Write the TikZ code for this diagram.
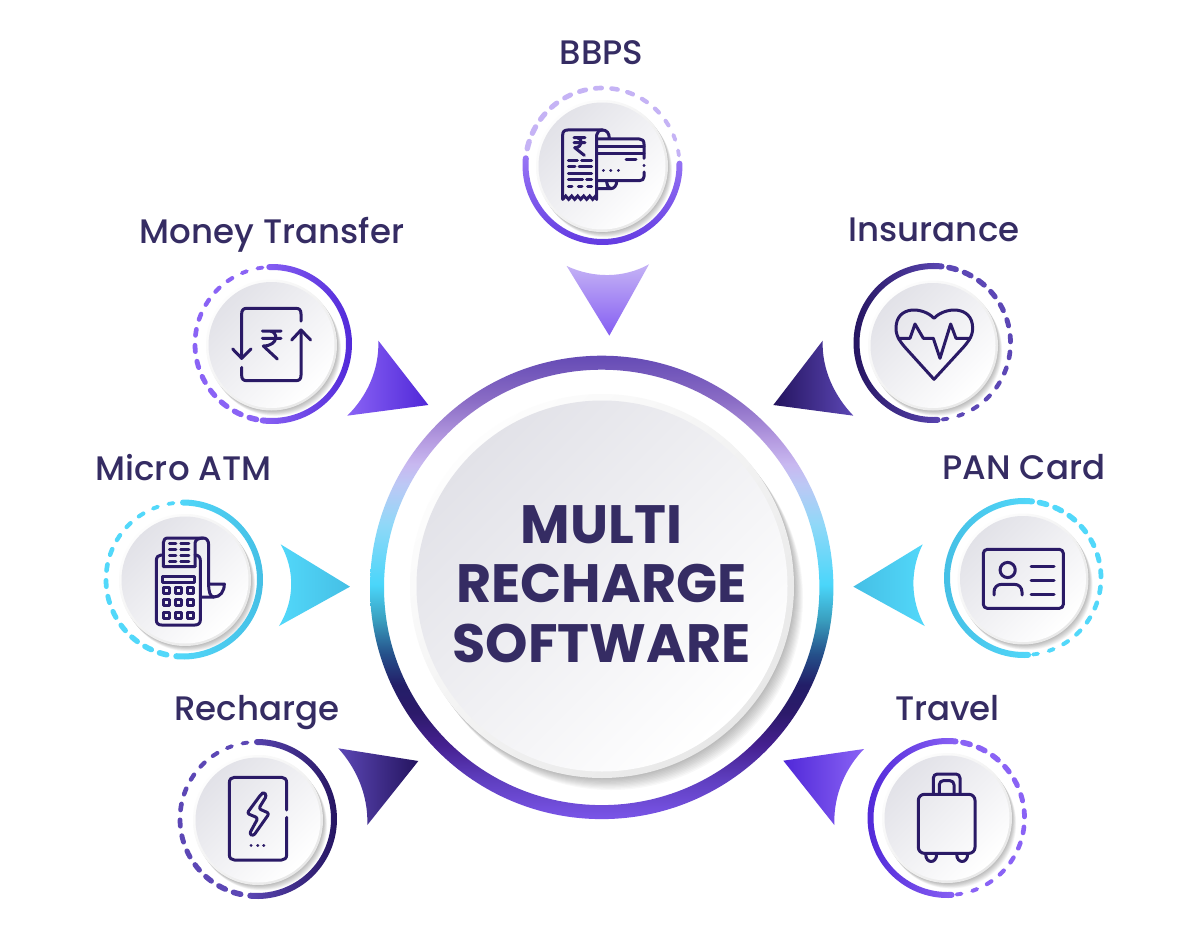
\documentclass[tikz,border=0pt]{standalone}
\usepackage{fontspec}
\setmainfont{Poppins}
\newfontfamily\labfont{Poppins Medium}
\definecolor{ink}{HTML}{352C63}
\definecolor{icon}{HTML}{2A1A66}
\definecolor{lav}{HTML}{C5B3F5}
\definecolor{vio}{HTML}{8A63F5}
\definecolor{viod}{HTML}{5028D8}
\definecolor{cyl}{HTML}{52D8FA}
\definecolor{cyd}{HTML}{45BFE5}
\definecolor{ind}{HTML}{5C47B5}
\definecolor{indd}{HTML}{24145F}
\definecolor{discA}{HTML}{E2E2E8}
\definecolor{rimA}{HTML}{FDFDFD}
\definecolor{rimB}{HTML}{E8E8E8}
\definecolor{ra}{HTML}{654BB5}
\definecolor{rb}{HTML}{8A6CC5}
\definecolor{rc}{HTML}{B49AE0}
\definecolor{rd}{HTML}{C8B8F0}
\definecolor{re}{HTML}{BCC8F5}
\definecolor{rf}{HTML}{90D8F8}
\definecolor{rg}{HTML}{4AD6FA}
\definecolor{rh}{HTML}{3AA0C0}
\definecolor{ri}{HTML}{25508A}
\definecolor{rj}{HTML}{231E68}
\definecolor{rk}{HTML}{2C1A6A}
\definecolor{rl}{HTML}{452090}
\definecolor{rm}{HTML}{5F3FC0}
\definecolor{rn}{HTML}{7A55E8}
% stops: 25bp = bottom of the ring (y=819), 75bp = top (y=356)
\pgfdeclareverticalshading{bigring}{100bp}{
 color(0bp)=(rn); color(25bp)=(rn); color(29.2bp)=(rm); color(33bp)=(rl);
 color(36.5bp)=(rk); color(39.5bp)=(rj); color(42.8bp)=(ri); color(46.6bp)=(rh);
 color(50.3bp)=(rg); color(56.8bp)=(rf); color(61.1bp)=(re); color(63.3bp)=(rd);
 color(66bp)=(rc); color(70.2bp)=(rb); color(75bp)=(ra); color(100bp)=(ra)}
\newcommand{\softshadow}[5]{% cx cy r spread opacity
 \foreach \i in {1,...,10}{
  \pgfmathsetmacro{\q}{\i/10}
  \fill[black,opacity=#5] ({#1+#4*.6*\q},{-#2-#4*.8*\q}) circle[radius=#3pt];
 }}
\newcommand{\disc}[4]{% cx cy r rim
 \shade[top color=rimA,bottom color=rimB,shading angle=45] (#1,-#2) circle[radius=#3pt];
 \shade[top color=discA,bottom color=white,shading angle=45] (#1,-#2) circle[radius={(#3-#4)*1pt}];
}
\newcommand{\solidarc}[7]{% cx cy r w a1 a2 shade-options
 \shade[#7] ({#1+(#3+#4/2)*cos(#5)},{-#2+(#3+#4/2)*sin(#5)})
   arc[start angle=#5,end angle=#6,radius={(#3+#4/2)*1pt}]
   arc[start angle=#6,end angle=#6+180,radius={#4/2*1pt}]
   arc[start angle=#6,end angle=#5,radius={(#3-#4/2)*1pt}]
   arc[start angle=#5+180,end angle=#5+360,radius={#4/2*1pt}] -- cycle;
}
\newcommand{\dashring}[9]{% cx cy a1 a2 w1 w2 len1 len2 colour
 \foreach \i in {0,...,13}{
  \pgfmathsetmacro{\t}{\i/13}
  \pgfmathsetmacro{\ang}{#3+(#4-#3)*\t}
  \pgfmathsetmacro{\wid}{#5+(#6-#5)*\t}
  \pgfmathsetmacro{\len}{#7+(#8-#7)*\t}
  \pgfmathsetmacro{\sa}{\ang-\len/2}
  \pgfmathsetmacro{\ea}{\ang+\len/2}
  \draw[#9,line width=\wid pt,line cap=round] ({#1+77*cos(\sa)},{-#2+77*sin(\sa)}) arc[start angle=\sa,end angle=\ea,radius=77pt];
 }}
\tikzset{
 lab/.style={font=\labfont\fontsize{34}{40}\selectfont,text=ink,anchor=base,inner sep=0pt},
 ic/.style={draw=icon,line width=3pt,line cap=round,line join=round},
 zoomed/.style={x=.33333pt,y=-.33333pt}
}
\begin{document}
\begin{tikzpicture}[x=1pt,y=1pt]
\useasboundingbox (0,0) rectangle (1200,-942);
\fill[white] (0,0) rectangle (1200,-942);

% soft shadows first, so that the rings stay clean
\softshadow{602}{586}{192}{15}{.028}
\softshadow{602}{166}{66}{7}{.028}
\softshadow{271.5}{345}{65.5}{7}{.028}
\softshadow{185}{580}{66}{7}{.028}
\softshadow{258}{820}{65}{7}{.028}
\softshadow{933}{345.5}{65}{7}{.028}
\softshadow{1023}{579}{65.5}{7}{.028}
\softshadow{947}{818}{65}{7}{.028}

% central ring and disc
\shade[shading=bigring,even odd rule] (601.7,-587.4) circle[radius=231.7pt] (601.7,-587.4) circle[radius=217.7pt];
\disc{602}{586}{192}{6.5}
\node[name=title,font=\bfseries\fontsize{54}{59.7}\selectfont,text=ink,align=center,inner sep=0pt] at (601.5,-584) {MULTI\\RECHARGE\\SOFTWARE};

% satellites: rings
\solidarc{602.5}{165}{77}{6}{175}{361}{top color=vio!75!lav,bottom color=viod!70!vio}
\dashring{602.5}{165}{165}{9}{5.4}{3.8}{5.5}{3.8}{lav}
\disc{602}{166}{66}{2.5}

\solidarc{272}{344}{77}{6}{-97}{92}{left color=vio,right color=viod}
\dashring{272}{344}{99}{255.6}{3.8}{5.6}{3.8}{5.5}{vio}
\disc{271.5}{345}{65.5}{2.5}

\solidarc{183}{579.5}{77}{6}{-95}{90}{left color=cyl,right color=cyd}
\dashring{183}{579.5}{99}{255}{3.8}{5.6}{3.8}{5.5}{cyl}
\disc{185}{580}{66}{2.5}

\solidarc{257}{819}{77}{6}{-95}{90}{left color=ind,right color=indd}
\dashring{257}{819}{99}{255}{3.8}{5.6}{3.8}{5.5}{ind}
\disc{258}{820}{65}{2.5}

\solidarc{933.5}{343}{77}{6}{84}{273}{left color=indd,right color=ind}
\dashring{933.5}{343}{75.7}{-81.4}{5.6}{3.8}{5.5}{3.8}{ind}
\disc{933}{345.5}{65}{2.5}

\solidarc{1024}{578}{77}{6}{84}{273}{left color=cyd,right color=cyl}
\dashring{1024}{578}{75.7}{-81.4}{5.6}{3.8}{5.5}{3.8}{cyl}
\disc{1023}{579}{65.5}{2.5}

\solidarc{947.5}{818}{77}{6}{84}{273}{left color=viod,right color=vio}
\dashring{947.5}{818}{75.7}{-81.4}{5.6}{3.8}{5.5}{3.8}{vio}
\disc{947}{818}{65}{2.5}

% pointers
\begin{scope}[shift={(500,-70)},zoomed]
 \shade[top color=lav,bottom color=vio!90!viod] (200,588) .. controls (280,625) and (370,625) .. (447,583) -- (328,797) -- cycle;
\end{scope}
\begin{scope}[shift={(170,-250)},zoomed]
 \shade[left color=vio,right color=viod] (625,272) .. controls (628,360) and (590,440) .. (532,497) -- (775,465) -- cycle;
\end{scope}
\begin{scope}[shift={(90,-490)},zoomed]
 \shade[left color=cyl,right color=cyd] (572,163) .. controls (615,240) and (615,330) .. (567,408) -- (780,290) -- cycle;
\end{scope}
\begin{scope}[shift={(170,-730)},zoomed]
 \shade[left color=ind,right color=indd] (505,55) .. controls (555,110) and (595,190) .. (592,285) -- (745,93) -- cycle;
\end{scope}
\begin{scope}[shift={(770,-250)},zoomed]
 \shade[left color=indd,right color=ind] (158,272) .. controls (155,360) and (195,440) .. (250,497) -- (10,465) -- cycle;
\end{scope}
\begin{scope}[shift={(850,-490)},zoomed]
 \shade[left color=cyd,right color=cyl] (218,163) .. controls (180,240) and (180,330) .. (224,408) -- (10,290) -- cycle;
\end{scope}
\begin{scope}[shift={(780,-730)},zoomed]
 \shade[left color=viod,right color=vio] (252,57) .. controls (200,110) and (160,190) .. (163,285) -- (10,92) -- cycle;
\end{scope}

% icons
\begin{scope}[shift={(500,-70)},zoomed]% BBPS
 \draw[ic] (188,388) -- (188,195) .. controls (188,185) and (193,180) .. (203,180) -- (308,180) .. controls (320,180) and (328,190) .. (328,205);
 \draw[ic] (290,388) -- (290,195) .. controls (290,187) and (297,180) .. (308,180);
 \draw[ic,line join=miter] (188,388) -- (197,378) -- (206,388) -- (215,378) -- (224,388) -- (233,378) -- (242,388) -- (251,378) -- (260,388) -- (269,378) -- (278,388) -- (285,380) -- (290,388);
 \draw[ic] (222,203) -- (255,203) (222,218) -- (255,218) (232,203) .. controls (248,205) and (250,232) .. (224,233) -- (253,256);
 \draw[ic] (205,272) -- (232,272) (245,272) -- (275,272) (205,290) -- (225,290) (237,290) -- (275,290) (205,312) -- (275,312) (205,330) -- (248,330) (260,330) -- (275,330) (205,350) -- (216,350) (235,350) -- (246,350) (263,350) -- (275,350);
 \draw[ic] (295,207) -- (418,207) .. controls (427,207) and (432,212) .. (432,222) -- (432,265) (432,286) -- (432,287) (432,306) -- (432,320) .. controls (432,328) and (427,332) .. (418,332) -- (295,332);
 \draw[ic] (295,230) -- (432,230) (295,250) -- (432,250) (378,270) -- (408,270);
 \draw[ic] (310,301) -- (310.5,301) (332,301) -- (332.5,301) (355,301) -- (355.5,301);
 \draw[ic] (295,356) -- (332,356) .. controls (343,356) and (350,346) .. (350,334) (320,336) .. controls (320,346) and (324,352) .. (332,356);
\end{scope}
\begin{scope}[shift={(170,-250)},zoomed]% Money Transfer
 \draw[ic] (393,213) -- (393,192) .. controls (393,180) and (388,175) .. (378,175) -- (230,175) .. controls (220,175) and (215,180) .. (215,192) -- (215,325);
 \draw[ic] (188,297) -- (215,325) -- (243,297);
 \draw[ic] (215,352) -- (215,376) .. controls (215,387) and (220,392) .. (230,392) -- (378,392) .. controls (388,392) and (393,387) .. (393,376) -- (393,240);
 \draw[ic] (365,270) -- (393,240) -- (422,270);
 \draw[ic] (277,243) -- (333,243) (277,265) -- (333,265) (298,243) .. controls (325,243) and (328,287) .. (280,288) -- (322,327);
\end{scope}
\begin{scope}[shift={(90,-490)},zoomed]% Micro ATM
 \draw[ic] (220,195) -- (213,195) .. controls (204,195) and (199,202) .. (199,212) -- (199,390) .. controls (199,400) and (205,405) .. (215,405) -- (315,405) .. controls (325,405) and (331,400) .. (331,390) -- (331,212) .. controls (331,202) and (326,195) .. (315,195);
 \draw[ic] (315,230) -- (220,230) -- (220,158) .. controls (220,149) and (225,144) .. (235,144) -- (340,144) .. controls (350,144) and (356,152) .. (356,165) -- (356,282) -- (403,282) .. controls (403,305) and (390,321) .. (372,321) -- (332,321);
 \draw[ic] (315,230) -- (315,160) .. controls (315,150) and (325,144) .. (340,144);
 \draw[ic] (372,321) .. controls (360,321) and (356,305) .. (356,282);
 \draw[ic,line width=2.6pt] (238,160) -- (258,160) (272,160) -- (297,160) (238,178) -- (258,178) (272,178) -- (297,178) (238,197) -- (258,197) (272,197) -- (297,197) (238,214) -- (258,214) (272,214) -- (297,214);
 \draw[ic] (218,258) rectangle (313,278);
 \foreach \ky in {302,338,375}{\foreach \kx in {230,265,302}{
   \draw[ic] (\kx-9,\ky-9) rectangle (\kx+9,\ky+9);
 }}
\end{scope}
\begin{scope}[shift={(170,-730)},zoomed]% Recharge
 \draw[ic] (350,240) -- (350,158) .. controls (350,148) and (344,142) .. (335,142) -- (193,142) .. controls (184,142) and (178,148) .. (178,158) -- (178,374) .. controls (178,384) and (184,390) .. (193,390) -- (335,390) .. controls (344,390) and (350,384) .. (350,374) -- (350,262);
 \draw[ic,rounded corners=2.5pt] (273,193) -- (231,250) -- (264,264) -- (238,312) -- (250,318) -- (298,250) -- (266,236) -- (290,197) -- (282,186) -- cycle;
 \draw[ic] (243,346) -- (243.5,346) (263,346) -- (263.5,346) (281,346) -- (281.5,346);
\end{scope}
\begin{scope}[shift={(770,-250)},zoomed]% Insurance
 \draw[ic] (492,205) .. controls (460,170) and (378,165) .. (378,235) .. controls (378,262) and (395,280) .. (405,292) -- (492,388) -- (580,292) .. controls (590,280) and (608,262) .. (608,235) .. controls (608,165) and (524,170) .. (492,205) -- cycle;
 \draw[ic] (385,265) -- (420,265) -- (435,222) -- (460,265) -- (490,265) -- (510,325) -- (542,222) -- (558,265) -- (600,265);
\end{scope}
\begin{scope}[shift={(850,-490)},zoomed]% PAN Card
 \draw[ic,rounded corners=4pt] (400,178) rectangle (640,355);
 \draw[ic] (473,240) circle[radius=7.6pt];
 \draw[ic] (432,315) -- (432,306) .. controls (432,292) and (442,283) .. (455,283) -- (493,283) .. controls (506,283) and (516,292) .. (516,306) -- (516,315);
 \draw[ic] (543,230) -- (612,230) (543,272) -- (612,272) (543,313) -- (612,313);
\end{scope}
\begin{scope}[shift={(780,-730)},zoomed]% Travel
 \draw[ic,rounded corners=6pt] (415,193) rectangle (585,370);
 \draw[ic,rounded corners=4pt] (460,193) -- (460,132) -- (540,132) -- (540,193);
 \draw[ic,rounded corners=4pt] (478,193) -- (478,152) -- (522,152) -- (522,193);
 \draw[ic] (437,372) .. controls (437,402) and (470,402) .. (470,372);
 \draw[ic] (530,372) .. controls (530,402) and (563,402) .. (563,372);
\end{scope}

% labels
\node[lab,name=lbbps] at (601.5,-65) {BBPS};
\node[lab,name=lmoney] at (272,-243) {Money Transfer};
\node[lab,name=lins] at (934,-241) {Insurance};
\node[lab,name=lmicro] at (183.5,-480) {Micro ATM};
\node[lab,name=lpan] at (1024,-479) {PAN Card};
\node[lab,name=lrech] at (257,-720) {Recharge};
\node[lab,name=ltrav] at (947.5,-720) {Travel};
\end{tikzpicture}
\end{document}
